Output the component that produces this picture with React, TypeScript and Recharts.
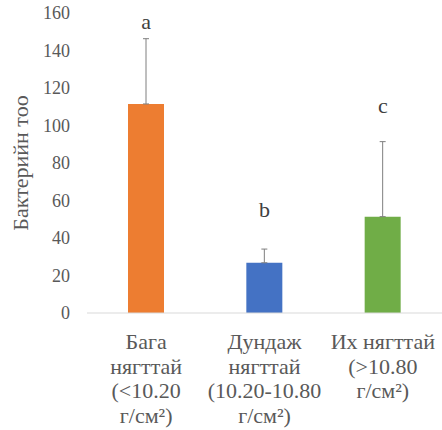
import { BarChart, Bar, XAxis, YAxis, ErrorBar, ReferenceDot, Label, Cell } from 'recharts';

const categories = ['Бага нягттай', 'Дундаж нягттай', 'Их нягттай'];
const categoryLines = [
  ['Бага', 'нягттай', '(<10.20', 'г/см²)'],
  ['Дундаж', 'нягттай', '(10.20-10.80', 'г/см²)'],
  ['Их нягттай', '(>10.80', 'г/см²)'],
];
const bacteriaCounts = [111.5, 26.8, 51.4];
const errorUp = [34.8, 7.3, 40];
const letters = ['a', 'b', 'c'];
const letterLevels = [155.5, 55.2, 110.8];
const barColors = ['#ED7D31', '#4472C4', '#70AD47'];
const yTicks = [0, 20, 40, 60, 80, 100, 120, 140, 160];

const FONT = '"Liberation Serif", "DejaVu Serif", serif';

const data = categories.map((name, i) => ({
  name,
  value: bacteriaCounts[i],
  err: [0, errorUp[i]],
}));

const CategoryTick = ({ x, y, payload }: any) => {
  const lines = categoryLines[payload.index] ?? [payload.value];
  return (
    <text x={x} y={y + 36} textAnchor="middle" fill="#595959" fontSize={22}>
      {lines.map((line, i) => (
        <tspan key={i} x={x} dy={i === 0 ? 0 : 24.5}>{line}</tspan>
      ))}
    </text>
  );
};

export default function App() {
  return (
    <div className="chart-wrap" style={{ position: 'absolute', top: 0, left: 0 }}>
      <style>{`.chart-wrap, .chart-wrap svg, .chart-wrap text, .chart-wrap tspan { font-family: ${FONT} !important; }`}</style>
      <BarChart
        width={442}
        height={430}
        data={data}
        margin={{ top: 13, right: 0, bottom: 0, left: 0 }}
      >
        <XAxis
          dataKey="name"
          height={117}
          axisLine={{ stroke: '#d9d9d9' }}
          tickLine={false}
          tickSize={0}
          tickMargin={0}
          interval={0}
          tick={<CategoryTick />}
        />
        <YAxis
          width={87}
          domain={[0, 160]}
          ticks={yTicks}
          axisLine={false}
          tickLine={false}
          tickSize={0}
          tickMargin={17}
          tick={{ fill: '#595959', fontSize: 18 }}
        >
          <Label value="Бактерийн тоо" angle={-90} position="center" dx={-23.5} fill="#595959" fontSize={22} />
        </YAxis>
        <Bar dataKey="value" barSize={36} isAnimationActive={false}>
          {data.map((d, i) => (
            <Cell key={d.name} fill={barColors[i]} />
          ))}
          <ErrorBar dataKey="err" direction="y" width={3} stroke="#7f7f7f" strokeWidth={1} isAnimationActive={false} />
        </Bar>
        {categories.map((c, i) => (
          <ReferenceDot
            key={c}
            x={c}
            y={letterLevels[i]}
            r={0}
            fill="none"
            stroke="none"
            label={{ value: letters[i], position: 'center', fill: '#404040', fontSize: 22 }}
          />
        ))}
      </BarChart>
    </div>
  );
}
